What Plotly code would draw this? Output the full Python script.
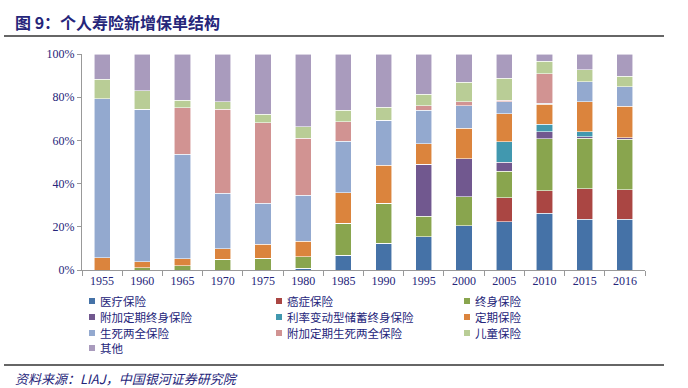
import plotly.graph_objects as go

years = ["1955", "1960", "1965", "1970", "1975", "1980", "1985", "1990",
         "1995", "2000", "2005", "2010", "2015", "2016"]

medical = [0, 0, 0, 0, 0, 0.8, 6.9, 12.3, 15.4, 20.5, 22.4, 26.2, 23.5, 23.5]
cancer = [0, 0, 0, 0, 0, 0, 0, 0, 0, 0, 11.1, 10.5, 14.2, 13.7]
whole_life = [0, 1.1, 2.0, 4.9, 5.4, 5.4, 14.7, 18.6, 9.4, 13.3, 12.3, 24.1, 23.3, 23.4]
rider_term_whole = [0, 0, 0, 0, 0, 0, 0, 0, 24.1, 17.7, 4.2, 3.1, 0.7, 0.7]
variable_rate = [0, 0, 0, 0, 0, 0, 0, 0, 0, 0, 9.4, 3.5, 2.3, 0]
term = [5.7, 2.8, 3.1, 5.0, 6.5, 7.1, 14.2, 17.6, 9.6, 14.1, 13.0, 9.3, 13.8, 14.5]
endowment = [73.6, 70.6, 48.6, 25.6, 19.0, 21.3, 23.8, 20.9, 15.4, 10.5, 5.5, 0.6, 9.4, 9.1]
rider_endowment = [0, 0, 21.5, 38.9, 37.3, 26.4, 9.1, 0, 2.2, 1.8, 0.6, 13.6, 0, 0]
children = [9.0, 8.5, 3.3, 3.4, 3.9, 5.4, 5.2, 5.9, 5.2, 9.0, 10.2, 5.7, 5.4, 4.9]
other = [11.7, 17.0, 21.5, 22.2, 27.9, 33.6, 26.1, 24.7, 18.7, 13.1, 11.3, 3.4, 7.4, 10.2]

y_tick_values = [0, 20, 40, 60, 80, 100]
y_tick_labels = ["0%", "20%", "40%", "60%", "80%", "100%"]

series = [
    ("医疗保险", medical, "#4572A7"),
    ("癌症保险", cancer, "#AA4643"),
    ("终身保险", whole_life, "#89A54E"),
    ("附加定期终身保险", rider_term_whole, "#71588F"),
    ("利率变动型储蓄终身保险", variable_rate, "#4198AF"),
    ("定期保险", term, "#DB843D"),
    ("生死两全保险", endowment, "#93A9CF"),
    ("附加定期生死两全保险", rider_endowment, "#D19392"),
    ("儿童保险", children, "#B9CD96"),
    ("其他", other, "#A99BBD"),
]

navy = "#25257A"
cjk = "Noto Sans CJK SC"
serif = "Liberation Serif"

# plot area geometry (px)
PL, PR, PT, PB = 82, 645, 54, 270
PW, PH = PR - PL, PB - PT


def px_x(x):
    return (x - PL) / PW


def px_y(y):
    return (PB - y) / PH


fig = go.Figure()
for name, vals, color in series:
    fig.add_trace(go.Bar(
        x=years, y=vals, name=name,
        marker=dict(color=color, line=dict(color="rgba(255,255,255,0.8)", width=0.7)),
        showlegend=False,
    ))

shapes = [
    dict(type="line", xref="paper", yref="paper",
         x0=px_x(4), x1=px_x(664), y0=px_y(36), y1=px_y(36),
         line=dict(color="#333333", width=1.5)),
    dict(type="line", xref="paper", yref="paper",
         x0=px_x(4), x1=px_x(664), y0=px_y(365), y1=px_y(365),
         line=dict(color="#666666", width=2)),
]
annotations = [
    dict(text="<b>图 9：个人寿险新增保单结构</b>", xref="paper", yref="paper",
         x=px_x(13), y=px_y(22), xanchor="left", yanchor="middle",
         showarrow=False, font=dict(family=cjk, size=16, color=navy)),
    dict(text="<i>资料来源：LIAJ，中国银河证券研究院</i>", xref="paper", yref="paper",
         x=px_x(13), y=px_y(378), xanchor="left", yanchor="middle",
         showarrow=False, font=dict(family=cjk, size=13, color=navy)),
]

# legend: 3 columns, row-major
col_x = [89, 276, 464]
row_y = [301, 317, 333, 348]
for i, (name, vals, color) in enumerate(series):
    cx = col_x[i % 3]
    cy = row_y[i // 3]
    shapes.append(dict(type="rect", xref="paper", yref="paper",
                       x0=px_x(cx), x1=px_x(cx + 6), y0=px_y(cy + 3), y1=px_y(cy - 3),
                       fillcolor=color, line=dict(width=0)))
    annotations.append(dict(text=name, xref="paper", yref="paper",
                            x=px_x(cx + 9), y=px_y(cy), xanchor="left", yanchor="middle",
                            showarrow=False, font=dict(family=cjk, size=11.5, color=navy)))

fig.update_layout(
    width=688, height=388,
    barmode="stack", bargap=0.6,
    paper_bgcolor="white", plot_bgcolor="white",
    margin=dict(l=PL, r=688 - PR, t=PT, b=388 - PB, autoexpand=False),
    showlegend=False,
    xaxis=dict(
        type="category", showline=True, linecolor="#999999", linewidth=1,
        ticks="outside", tickson="boundaries", ticklen=5, tickcolor="#999999",
        tickfont=dict(family=serif, size=12, color=navy),
        showgrid=False, automargin=False,
    ),
    yaxis=dict(
        range=[0, 100], tickmode="array", tickvals=y_tick_values, ticktext=y_tick_labels,
        showline=True, linecolor="#999999", linewidth=1,
        ticks="outside", ticklen=4, tickcolor="#999999",
        tickfont=dict(family=serif, size=12, color=navy),
        showgrid=False, zeroline=False, automargin=False,
    ),
    shapes=shapes,
    annotations=annotations,
)

fig.write_html(
    "out.html",
    config={"displayModeBar": False},
    post_script="document.body.style.margin='0';document.body.style.padding='0';",
)
